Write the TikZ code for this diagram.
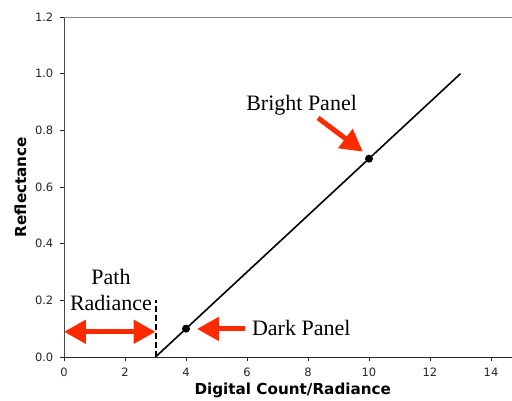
\documentclass[tikz,border=0pt]{standalone}
\usepackage{fontspec}
\setmainfont{Liberation Serif}
\setsansfont{DejaVu Sans}
\usepackage{xcolor}
\definecolor{ink}{HTML}{000000}
\definecolor{frame}{HTML}{262626}
\definecolor{callout}{HTML}{FF2A00}
\usepackage{tikz}
\usetikzlibrary{arrows.meta, positioning}
\tikzset{
  spineline/.style={draw=frame, line width=0.8pt},
  tickmark/.style={draw=frame, line width=0.8pt},
  ticklbl/.style={font=\sffamily\fontsize{11.5}{13}\selectfont, text=frame, inner sep=0pt},
  axlbl/.style={font=\sffamily\bfseries\fontsize{15.2}{17}\selectfont, text=ink, inner sep=0pt},
  note/.style={font=\fontsize{22}{26}\selectfont, text=ink, inner sep=0pt, align=center},
  bighead/.tip={Triangle[length=22pt, width=23pt]},
  pointer/.style={-bighead, line width=5pt, draw=callout, fill=callout},
  twoway/.style={bighead-bighead, line width=5pt, draw=callout, fill=callout},
  dot/.style={circle, fill=ink, inner sep=0pt, minimum size=8pt},
}

\begin{document}
\begin{tikzpicture}[x=30.5pt, y=283.33pt,
    fitline/.style={draw=ink, line width=1.6pt},
    offset/.style={draw=ink, line width=2pt, dash pattern=on 6pt off 3pt}]

  \useasboundingbox (-64pt,-43pt) rectangle (448pt,357pt);
  \clip (-64pt,-43pt) rectangle (448pt,357pt);

  % Axes frame, open on the right where the figure is cut.
  \draw[spineline] (0,0) -- (15,0);
  \draw[spineline, draw=frame!85] (0,0) -- (0,1.2);
  \draw[spineline, draw=frame!55] (0,1.2) -- (15,1.2);

  % Ticks and their labels.
  \foreach \v/\t in {0/0.0, 0.2/0.2, 0.4/0.4, 0.6/0.6, 0.8/0.8, 1.0/1.0, 1.2/1.2} {
    \draw[tickmark] (0,\v) -- ++(-4pt,0);
    \node[ticklbl, anchor=east] (yt\t) at ([xshift=-10.5pt]0,\v) {\t};
  }
  \foreach \u in {0,2,...,14} {
    \draw[tickmark] (\u,0) -- ++(0,-4pt);
    \node[ticklbl, anchor=north] (xt\u) at ([yshift=-10.5pt]\u,0) {\u};
  }
  \node[axlbl] (xlab) at ([yshift=-33pt]7.5,0) {Digital Count/Radiance};
  \node[axlbl, rotate=90] (ylab) at ([xshift=-43.5pt]0,0.6) {Reflectance};

  % The calibration line through both panels.
  \coordinate (lo) at (3,0);
  \coordinate (hi) at (13,1.0);
  \draw[fitline] (lo) -- (hi);
  \node[dot] (darkpt) at (4,0.1) {};
  \node[dot] (brightpt) at (10,0.7) {};

  % Offset at zero reflectance.
  \coordinate (offtop) at (3,0.2);
  \draw[offset] (lo) -- (offtop);
  \coordinate (pathL) at (0,0.089);
  \coordinate (pathR) at (3,0.089);
  \draw[twoway] (pathL) -- (pathR);
  \node[note] (pathlbl) at (1.54,0.236) {Path\\Radiance};

  % Call-outs for the two panels.
  \node[note] (bright) at (7.79,0.889) {Bright Panel};
  \coordinate (brightTail) at (8.33,0.8436);
  \coordinate (brightTip) at (9.80,0.7246);
  \draw[pointer] (brightTail) -- (brightTip);

  \node[note, anchor=west] (dark) at (6.16,0.101) {Dark Panel};
  \coordinate (darkTail) at (5.93,0.099);
  \coordinate (darkTip) at (4.36,0.099);
  \draw[pointer] (darkTail) -- (darkTip);
\end{tikzpicture}
\end{document}
